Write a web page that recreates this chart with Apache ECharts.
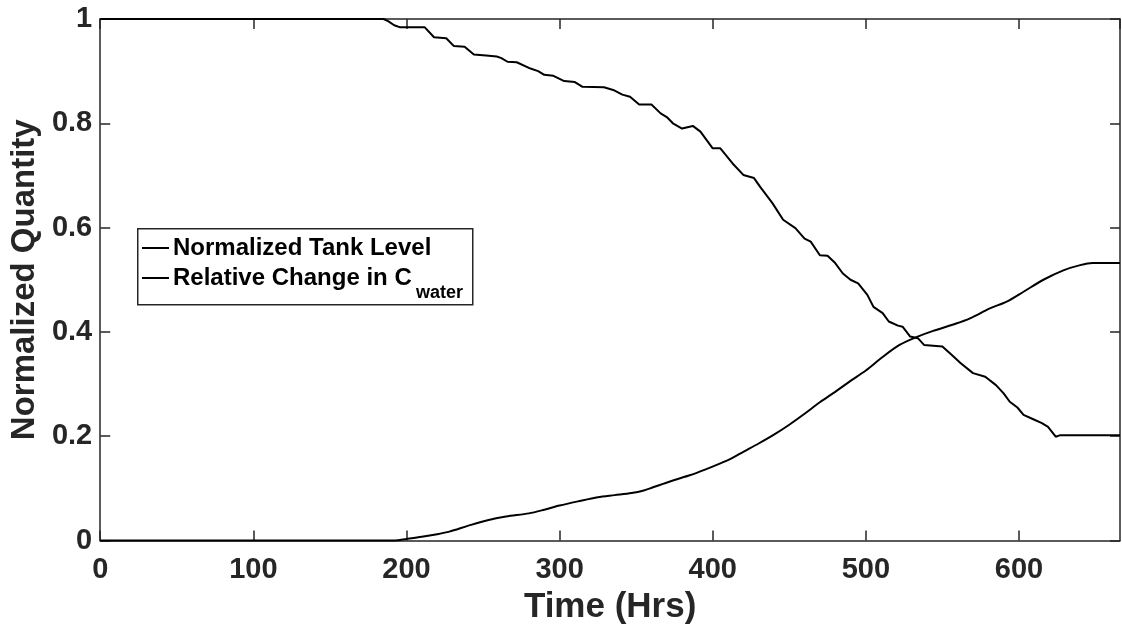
<!DOCTYPE html>
<html>
<head>
<meta charset="utf-8">
<title>Normalized Tank Level and Relative Change in C_water</title>
<script src="https://cdn.jsdelivr.net/npm/echarts@6/dist/echarts.min.js"></script>
<style>
  html, body { margin: 0; padding: 0; background: #fff; }
  #chart { width: 1122px; height: 632px; }
</style>
</head>
<body>
<div id="chart"></div>
<script>
// Time axis (hours) and tick values
const xTicks = [0, 100, 200, 300, 400, 500, 600];
const yTicks = [0, 0.2, 0.4, 0.6, 0.8, 1];
const timeMax = 666;

// Normalized tank level: [time (h), level]
const tankLevel = [
  [0, 1.0], [185, 1.0], [188, 0.996], [192, 0.988], [196, 0.984], [212, 0.984],
  [218, 0.965], [226, 0.963], [231, 0.948], [238, 0.947], [244, 0.932], [252, 0.930],
  [259, 0.928], [262, 0.925], [266, 0.918], [272, 0.917], [281, 0.905], [286, 0.900],
  [290, 0.893], [296, 0.891], [303, 0.881], [310, 0.879], [315, 0.870], [329, 0.869],
  [335, 0.864], [341, 0.855], [346, 0.851], [352, 0.836], [360, 0.836], [366, 0.819],
  [370, 0.812], [374, 0.800], [380, 0.790], [387, 0.795], [392, 0.784], [400, 0.752],
  [405, 0.752], [413, 0.723], [420, 0.701], [427, 0.695], [431, 0.678], [439, 0.647],
  [446, 0.615], [454, 0.599], [460, 0.579], [464, 0.573], [470, 0.547], [475, 0.546],
  [480, 0.532], [485, 0.512], [490, 0.500], [495, 0.493], [501, 0.471], [505, 0.448],
  [511, 0.436], [515, 0.420], [521, 0.412], [524, 0.410], [529, 0.391], [534, 0.388],
  [538, 0.375], [550, 0.372], [556, 0.356], [562, 0.340], [570, 0.321], [578, 0.314],
  [585, 0.298], [590, 0.282], [594, 0.266], [599, 0.255], [603, 0.241], [609, 0.233],
  [615, 0.225], [619, 0.218], [624, 0.199], [627, 0.202], [666, 0.202]
];

// Relative change in C_water: [time (h), relative change]
const relChange = [
  [0, 0], [192, 0], [200, 0.003], [210, 0.007], [220, 0.012], [228, 0.017],
  [240, 0.028], [253, 0.039], [265, 0.046], [280, 0.052], [290, 0.059], [300, 0.067],
  [312, 0.075], [325, 0.083], [336, 0.087], [347, 0.091], [355, 0.096], [361, 0.102],
  [368, 0.109], [375, 0.116], [385, 0.125], [395, 0.136], [405, 0.148], [412, 0.157],
  [420, 0.170], [430, 0.186], [440, 0.203], [450, 0.222], [460, 0.243], [470, 0.265],
  [480, 0.285], [490, 0.306], [500, 0.326], [511, 0.352], [522, 0.375], [533, 0.390],
  [544, 0.402], [559, 0.416], [568, 0.426], [581, 0.445], [592, 0.458], [603, 0.477],
  [616, 0.500], [629, 0.518], [640, 0.528], [648, 0.532], [666, 0.532]
];

const seriesNames = ['Normalized Tank Level', 'Relative Change in C'];
const subscript = 'water';

const FONT = "'Liberation Sans', Arial, Helvetica, sans-serif";
const AXIS_COLOR = '#262626';

const chart = echarts.init(document.getElementById('chart'), null, { renderer: 'canvas' });

const axisLine = { show: true, onZero: false, lineStyle: { color: AXIS_COLOR, width: 1.5 } };
const axisTick = { show: true, inside: true, length: 10, lineStyle: { color: AXIS_COLOR, width: 1.5 } };
const tickLabel = { fontFamily: FONT, fontSize: 29, fontWeight: 'bold', color: AXIS_COLOR };

const xStep = xTicks[1] - xTicks[0];
const yStep = yTicks[1] - yTicks[0];

const option = {
  animation: false,
  backgroundColor: '#fff',
  grid: { left: 99, right: 2, top: 19, bottom: 91.5, containLabel: false },
  xAxis: [
    {
      type: 'value', position: 'bottom', min: xTicks[0], max: timeMax, interval: xStep,
      axisLine, axisTick, splitLine: { show: false },
      axisLabel: Object.assign({ margin: 15, showMaxLabel: false }, tickLabel),
      name: 'Time (Hrs)', nameLocation: 'middle', nameGap: 47,
      nameTextStyle: { fontFamily: FONT, fontSize: 35, fontWeight: 'bold', color: AXIS_COLOR }
    },
    {
      type: 'value', position: 'top', min: xTicks[0], max: timeMax, interval: xStep,
      axisLine, axisTick, splitLine: { show: false }, axisLabel: { show: false }
    }
  ],
  yAxis: [
    {
      type: 'value', position: 'left', min: yTicks[0], max: yTicks[yTicks.length - 1], interval: yStep,
      axisLine, axisTick, splitLine: { show: false },
      axisLabel: Object.assign({ margin: 8 }, tickLabel),
      name: 'Normalized Quantity', nameLocation: 'middle', nameGap: 59,
      nameTextStyle: { fontFamily: FONT, fontSize: 33, fontWeight: 'bold', color: AXIS_COLOR }
    },
    {
      type: 'value', position: 'right', min: yTicks[0], max: yTicks[yTicks.length - 1], interval: yStep,
      axisLine, axisTick, splitLine: { show: false }, axisLabel: { show: false }
    }
  ],
  series: [
    {
      name: seriesNames[0], type: 'line', data: tankLevel, showSymbol: false, clip: false,
      lineStyle: { color: '#000', width: 2 }, xAxisIndex: 0, yAxisIndex: 0
    },
    {
      name: seriesNames[1], type: 'line', data: relChange, showSymbol: false, clip: false,
      smooth: 0.3,
      lineStyle: { color: '#000', width: 2 }, xAxisIndex: 0, yAxisIndex: 0
    }
  ],
  // Boxed legend with a subscripted label
  graphic: [
    {
      type: 'rect', left: 137, top: 228, z: 100,
      shape: { width: 335, height: 76 },
      style: { fill: '#fff', stroke: AXIS_COLOR, lineWidth: 1.5 }
    },
    {
      type: 'line', z: 101,
      shape: { x1: 142, y1: 248, x2: 169, y2: 248 },
      style: { stroke: '#000', lineWidth: 2 }
    },
    {
      type: 'text', x: 173, y: 248, z: 101,
      style: { text: seriesNames[0], font: 'bold 24px ' + FONT, fill: '#000', verticalAlign: 'middle' }
    },
    {
      type: 'line', z: 101,
      shape: { x1: 142, y1: 278, x2: 169, y2: 278 },
      style: { stroke: '#000', lineWidth: 2 }
    },
    {
      type: 'text', x: 173, y: 278, z: 101,
      style: { text: seriesNames[1], font: 'bold 24px ' + FONT, fill: '#000', verticalAlign: 'middle' }
    },
    {
      type: 'text', x: 416, y: 293, z: 101,
      style: { text: subscript, font: 'bold 18px ' + FONT, fill: '#000', verticalAlign: 'middle' }
    }
  ]
};

chart.setOption(option);
</script>
</body>
</html>
